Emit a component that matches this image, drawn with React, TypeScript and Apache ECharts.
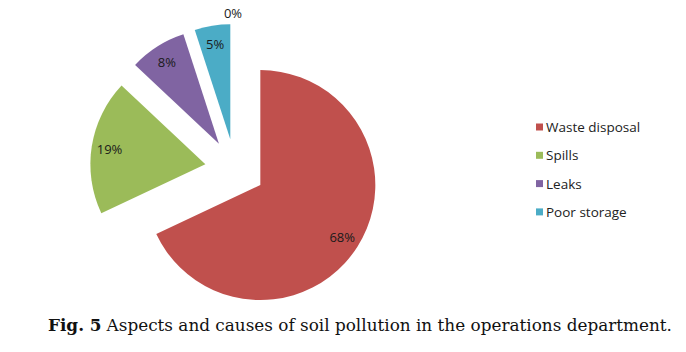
import React, { useEffect, useRef } from "react";
import * as echarts from "echarts";

const categories = ["Waste disposal", "Spills", "Leaks", "Poor storage"];
const values = [68, 19, 8, 5];
const zeroCategoryValue = 0;
const colors = ["#C0504D", "#9BBB59", "#8064A2", "#4BACC6"];
const captionBold = "Fig. 5";
const captionText = "Aspects and causes of soil pollution in the operations department.";

export default function App() {
  const ref = useRef<HTMLDivElement>(null);
  useEffect(() => {
    if (!ref.current) return;
    const chart = echarts.init(ref.current, null, { renderer: "svg" });
    const center = [235, 169];
    const radius = 115;
    const offset = 30;
    const mainData = categories.map((name, i) => ({
      name,
      value: values[i],
      selected: true,
      itemStyle: { color: colors[i] },
    }));
    const labelData = categories.map((name, i) => ({
      name,
      value: values[i],
      selected: true,
    }));
    chart.setOption({
      animation: false,
      title: {
        text: `{b|${captionBold}} {r|${captionText}}`,
        left: 48,
        top: 316,
        padding: 0,
        textStyle: {
          fontWeight: "normal",
          rich: {
            b: { fontFamily: "DejaVu Serif", fontWeight: "bold", fontSize: 16.85, color: "#111" },
            r: { fontFamily: "DejaVu Serif", fontWeight: "normal", fontSize: 16.85, color: "#111" },
          },
        },
      },
      legend: {
        data: categories,
        orient: "vertical",
        left: 531,
        top: 115,
        itemWidth: 7,
        itemHeight: 7,
        itemGap: 14.3,
        icon: "rect",
        selectedMode: false,
        textStyle: { fontFamily: "Open Sans", fontSize: 13.5, color: "#222", lineHeight: 14, padding: [0, 0, 0, -2] },
      },
      graphic: [
        {
          type: "text",
          x: center[0] - 2,
          y: center[1] - offset - radius - 11,
          style: {
            text: `${zeroCategoryValue}%`,
            fontFamily: "Open Sans",
            fontSize: 13,
            fill: "#1a1a1a",
            align: "center",
            verticalAlign: "middle",
          },
        },
      ],
      series: [
        {
          type: "pie",
          center,
          radius: [0, radius],
          startAngle: 90,
          clockwise: true,
          selectedMode: "multiple",
          selectedOffset: offset,
          silent: true,
          label: { show: false },
          labelLine: { show: false },
          data: mainData,
          emphasis: { disabled: true },
        },
        {
          type: "pie",
          center,
          radius: [0, 188],
          startAngle: 90,
          clockwise: true,
          selectedMode: "multiple",
          selectedOffset: offset,
          silent: true,
          itemStyle: { color: "rgba(0,0,0,0)" },
          label: {
            show: true,
            position: "inside",
            formatter: "{c}%",
            fontFamily: "Open Sans",
            fontSize: 13,
            color: "#1a1a1a",
          },
          labelLine: { show: false },
          data: labelData,
          emphasis: { disabled: true },
        },
      ],
    });
    return () => chart.dispose();
  }, []);
  return (
    <div
      ref={ref}
      style={{ position: "fixed", left: 0, top: 0, width: 686, height: 352, background: "#fff" }}
    />
  );
}
